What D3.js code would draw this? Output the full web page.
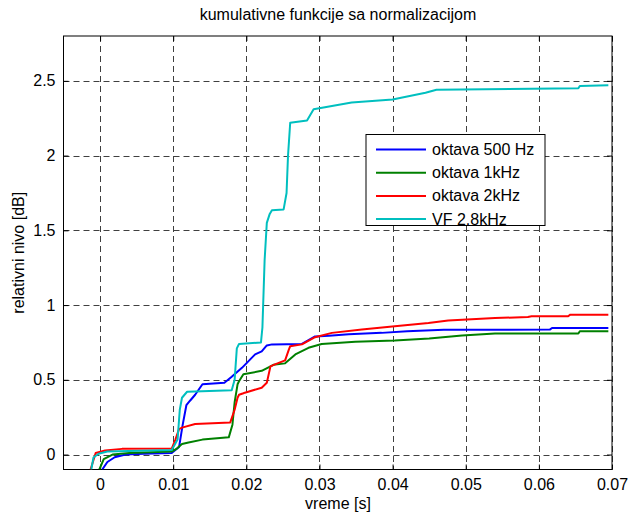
<!DOCTYPE html>
<html><head><meta charset="utf-8">
<script src="https://cdn.jsdelivr.net/npm/d3@7"></script>
<style>body{margin:0;background:#fff}svg{display:block}text{font-family:"Liberation Sans",Arial,sans-serif}</style>
</head><body>
<script>
const title = "kumulativne funkcije sa normalizacijom";
const xLabel = "vreme [s]";
const yLabel = "relativni nivo [dB]";
const xTicks = [0, 0.01, 0.02, 0.03, 0.04, 0.05, 0.06, 0.07];
const yTicks = [0, 0.5, 1, 1.5, 2, 2.5];
const seriesNames = ["oktava 500 Hz", "oktava 1kHz", "oktava 2kHz", "VF 2.8kHz"];
const seriesColors = ["#0000ff", "#008000", "#ff0000", "#00bfbf"];

const x500 = [0.0003,0.001,0.002,0.0035,0.006,0.0098,0.0108,0.0113,0.0118,0.0123,0.013,0.014,0.017,0.018,0.0194,0.0212,0.0221,0.0228,0.0235,0.0276,0.0294,0.0313,0.034,0.0385,0.042,0.047,0.0615,0.0618,0.0695];
const y500 = [-0.1,-0.05,-0.018,0.0,0.005,0.01,0.05,0.2,0.33,0.36,0.40,0.47,0.48,0.52,0.58,0.67,0.69,0.73,0.737,0.74,0.79,0.795,0.805,0.814,0.825,0.835,0.836,0.847,0.847];

const x1k = [-0.0001,0.0005,0.0017,0.004,0.0098,0.0105,0.0112,0.0121,0.014,0.0176,0.0181,0.0184,0.0188,0.019,0.0196,0.0221,0.0237,0.0253,0.0267,0.0285,0.0303,0.0349,0.0403,0.045,0.0495,0.054,0.0654,0.0656,0.0695];
const y1k = [-0.1,-0.03,0.0,0.01,0.02,0.04,0.07,0.08,0.1,0.115,0.2,0.35,0.47,0.49,0.537,0.56,0.60,0.61,0.67,0.714,0.74,0.754,0.763,0.776,0.796,0.81,0.81,0.825,0.825];

const x2k = [-0.0013,-0.0006,0.0007,0.003,0.0098,0.0103,0.0108,0.0112,0.013,0.0178,0.0184,0.0188,0.019,0.0196,0.0198,0.0221,0.0228,0.0233,0.024,0.0253,0.0258,0.026,0.0276,0.0294,0.0317,0.0358,0.0403,0.0449,0.0476,0.054,0.0585,0.059,0.064,0.0643,0.0695];
const y2k = [-0.1,0.01,0.027,0.038,0.04,0.1,0.17,0.18,0.204,0.215,0.3,0.38,0.4,0.41,0.414,0.447,0.48,0.59,0.605,0.63,0.7,0.725,0.737,0.785,0.814,0.836,0.858,0.88,0.896,0.913,0.92,0.925,0.925,0.936,0.936];

const xVF = [-0.0012,-0.0009,-0.0002,0.001,0.0098,0.0106,0.0109,0.0112,0.0119,0.018,0.0184,0.0187,0.019,0.022,0.0222,0.0225,0.0228,0.0232,0.0235,0.0251,0.0255,0.0257,0.026,0.0283,0.0292,0.0344,0.04,0.0445,0.046,0.0654,0.0656,0.0695];
const yVF = [-0.1,-0.02,0.005,0.02,0.03,0.1,0.3,0.38,0.42,0.43,0.5,0.71,0.74,0.75,0.85,1.3,1.55,1.61,1.635,1.64,1.75,2.0,2.22,2.235,2.31,2.355,2.375,2.42,2.44,2.45,2.465,2.47];

const seriesX = [x500, x1k, x2k, xVF];
const seriesY = [y500, y1k, y2k, yVF];

const W = 631, H = 513;
const L = 63.5, R = 612, T = 36, B = 469.5;
const svg = d3.select("body").append("svg").attr("width", W).attr("height", H);

const x = d3.scaleLinear().domain([-0.005, 0.07]).range([L, R]);
const y = d3.scaleLinear().domain([-0.1, 2.8]).range([B, T]);

// grid
const g = svg.append("g");
g.selectAll("line.gx").data(xTicks).join("line")
  .attr("x1", d => Math.round(x(d)) + 0.5).attr("x2", d => Math.round(x(d)) + 0.5)
  .attr("y1", T).attr("y2", B)
  .attr("stroke", "#404040").attr("stroke-dasharray", "6,4");
g.selectAll("line.gy").data(yTicks).join("line")
  .attr("y1", d => Math.round(y(d)) + 0.5).attr("y2", d => Math.round(y(d)) + 0.5)
  .attr("x1", L).attr("x2", R)
  .attr("stroke", "#404040").attr("stroke-dasharray", "6,4");

// axes with inward ticks
const fmt = d => d3.format("")(d).replace(/^0$/, "0");
const axB = svg.append("g").attr("transform", `translate(0,${B})`)
  .call(d3.axisBottom(x).tickValues(xTicks).tickSize(-5).tickPadding(9).tickFormat(d => String(d)));
const axT = svg.append("g").attr("transform", `translate(0,${T})`)
  .call(d3.axisTop(x).tickValues(xTicks).tickSize(-5).tickFormat(""));
const axL = svg.append("g").attr("transform", `translate(${L},0)`)
  .call(d3.axisLeft(y).tickValues(yTicks).tickSize(-5).tickPadding(8).tickFormat(d => String(d)));
const axR = svg.append("g").attr("transform", `translate(${R},0)`)
  .call(d3.axisRight(y).tickValues(yTicks).tickSize(-5).tickFormat(""));
[axB, axT, axL, axR].forEach(a => {
  a.select(".domain").remove();
  a.selectAll("line").attr("stroke", "#000");
  a.selectAll("text").attr("font-size", 16).attr("fill", "#000")
    .attr("font-family", '"Liberation Sans",Arial,sans-serif');
});
svg.append("rect").attr("x", L).attr("y", T).attr("width", R - L).attr("height", B - T)
  .attr("fill", "none").attr("stroke", "#000");

// lines
const clip = svg.append("clipPath").attr("id", "c").append("rect")
  .attr("x", L).attr("y", T).attr("width", R - L).attr("height", B - T);
const line = d3.line().x(d => x(d[0])).y(d => y(d[1]));
seriesX.forEach((xs, i) => {
  const pts = xs.map((v, j) => [v, seriesY[i][j]]);
  svg.append("path").datum(pts).attr("d", line)
    .attr("clip-path", "url(#c)")
    .attr("fill", "none").attr("stroke", seriesColors[i]).attr("stroke-width", 2)
    .attr("stroke-linejoin", "round");
});

// titles
svg.append("text").attr("x", 338).attr("y", 20).attr("text-anchor", "middle")
  .attr("font-size", 16).text(title);
svg.append("text").attr("x", 338).attr("y", 509).attr("text-anchor", "middle")
  .attr("font-size", 16).text(xLabel);
svg.append("text").attr("transform", `translate(24,${(T + B) / 2}) rotate(-90)`)
  .attr("text-anchor", "middle").attr("font-size", 16).text(yLabel);

// legend
const lg = svg.append("g");
lg.append("rect").attr("x", 366).attr("y", 134.5).attr("width", 179).attr("height", 91)
  .attr("fill", "#fff").attr("stroke", "#000");
seriesNames.forEach((n, i) => {
  const yy = 149.5 + i * 23.2;
  lg.append("line").attr("x1", 376).attr("x2", 426).attr("y1", yy).attr("y2", yy)
    .attr("stroke", seriesColors[i]).attr("stroke-width", 2);
  lg.append("text").attr("x", 432).attr("y", yy + 5.5).attr("font-size", 16).text(n);
});
</script>
</body></html>
